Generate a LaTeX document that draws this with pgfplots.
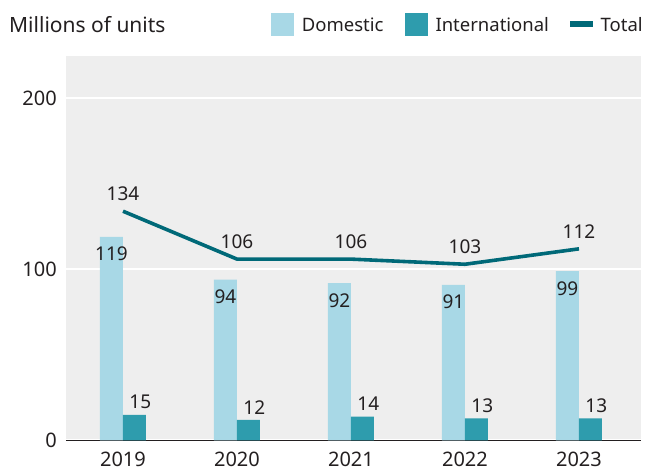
\documentclass[border=0pt]{standalone}
\usepackage{pgfplots}
\pgfplotsset{compat=1.18}
\usepackage{fontspec}
\setmainfont{Noto Sans}
\definecolor{domcol}{RGB}{168,216,230}
\definecolor{intcol}{RGB}{46,156,173}
\definecolor{totcol}{RGB}{0,105,120}
\definecolor{bgcol}{RGB}{238,238,238}
\definecolor{textcol}{RGB}{35,31,32}
\newcommand{\tickfont}{\fontsize{20}{23}\selectfont}
\newcommand{\lblfont}{\fontsize{19}{22}\selectfont}
\newcommand{\legfont}{\fontsize{18.5}{22}\selectfont}
\newcommand{\titfont}{\fontsize{21}{24}\selectfont}
\begin{document}
\begin{tikzpicture}[x=1pt,y=1pt]
\useasboundingbox (0,0) rectangle (646,468);
\begin{axis}[
  at={(66pt,27.5pt)}, anchor=south west,
  scale only axis, width=575pt, height=384.5pt,
  xmin=-0.5, xmax=4.544, ymin=0, ymax=224.7,
  axis background/.style={fill=bgcol},
  axis x line*=bottom, axis y line*=left,
  x axis line style={-, draw=textcol, line width=1.4pt},
  y axis line style={draw=none},
  ytick={0,100,200}, ymajorgrids,
  grid style={white, line width=2pt},
  major tick length=0pt,
  xtick={0,1,2,3,4}, xticklabels={2019,2020,2021,2022,2023},
  /pgf/number format/assume math mode=true,
  tick label style={font=\tickfont, text=textcol, inner sep=0pt},
  yticklabel style={anchor=east, xshift=-9pt},
  xticklabel style={anchor=north, yshift=-11.5pt},
  clip=false,
]
\addplot[ybar, bar width=23pt, bar shift=-11.5pt, fill=domcol, draw=none,
  nodes near coords,
  every node near coord/.append style={anchor=north, inner sep=0pt, yshift=-10pt, xshift=-11.5pt, font=\lblfont, text=textcol}]
  coordinates {(0,119) (1,94) (2,92) (3,91) (4,99)};
\addplot[ybar, bar width=23pt, bar shift=11.5pt, fill=intcol, draw=none,
  nodes near coords,
  every node near coord/.append style={anchor=south, inner sep=0pt, yshift=5.5pt, xshift=17.3pt, font=\lblfont, text=textcol}]
  coordinates {(0,15) (1,12) (2,14) (3,13) (4,13)};
\addplot[totcol, line width=3.6pt, mark=none, line join=round,
  nodes near coords,
  every node near coord/.append style={anchor=south, inner sep=0pt, yshift=8.5pt, font=\lblfont, text=textcol}]
  coordinates {(0,134) (1,106) (2,106) (3,103) (4,112)};
\end{axis}
\node[anchor=base west, inner sep=0pt, font=\titfont, text=textcol] at (9,435.3) {Millions of units};
\fill[domcol] (271,432.3) rectangle (294,454.7);
\node[anchor=base west, inner sep=0pt, font=\legfont, text=textcol] at (301.7,436.3) {Domestic};
\fill[intcol] (405,432.3) rectangle (427.7,454.7);
\node[anchor=base west, inner sep=0pt, font=\legfont, text=textcol] at (435.3,436.3) {International};
\draw[totcol, line width=6.5pt] (570,444) -- (592.7,444);
\node[anchor=base west, inner sep=0pt, font=\legfont, text=textcol] at (600.5,436.3) {Total};
\end{tikzpicture}
\end{document}
